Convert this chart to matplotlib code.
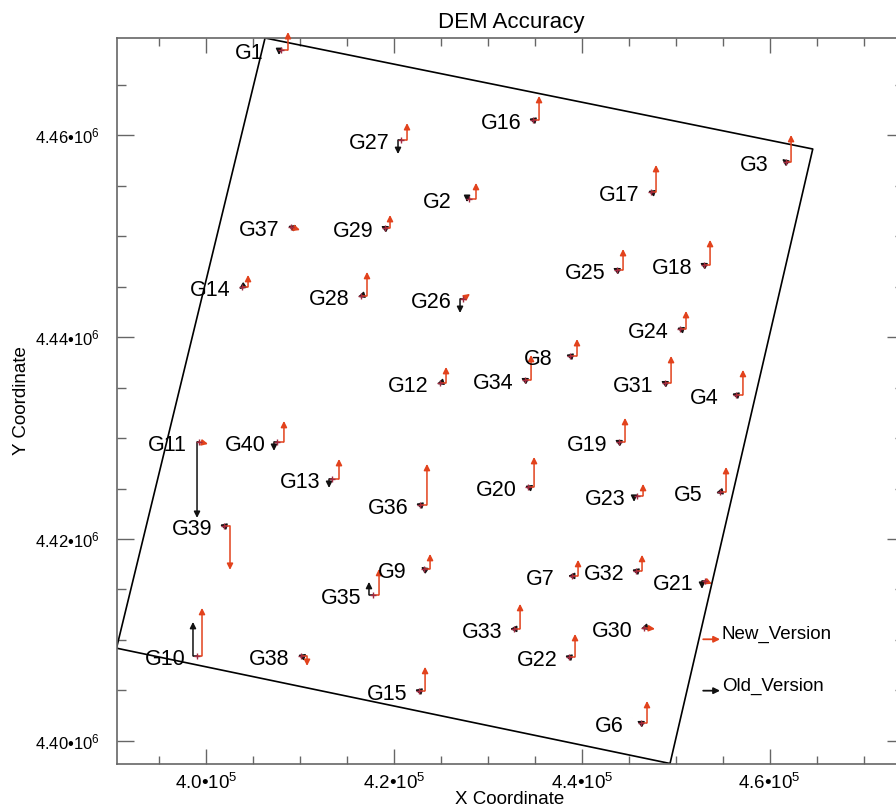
import matplotlib
matplotlib.use('Agg')
import matplotlib.pyplot as plt
from matplotlib.ticker import MultipleLocator, FuncFormatter

plt.rcParams['font.family'] = ['Liberation Sans', 'DejaVu Sans']
plt.rcParams['mathtext.fontset'] = 'custom'
plt.rcParams['mathtext.rm'] = 'Liberation Sans'
plt.rcParams['mathtext.it'] = 'Liberation Sans:italic'
plt.rcParams['mathtext.bf'] = 'Liberation Sans:bold'
plt.rcParams['mathtext.default'] = 'regular'

# ---------------- data ----------------
names = [f'G{i}' for i in range(1, 41)]
gcp_x = [408000, 428010, 461750, 456420, 454720, 446310, 438970, 438760, 423220, 399060,
         399270, 424920, 413430, 403850, 422690, 434820, 447380, 453020, 443970, 434290,
         453120, 438650, 445890, 450460, 443760, 427370, 420770, 416510, 419070, 446630,
         448870, 445780, 432800, 433970, 417790, 422790, 409060, 410130, 401930, 407570]
gcp_y = [4468460, 4453700, 4457360, 4434280, 4424660, 4401770, 4416340, 4438140, 4417030, 4408410,
         4429620, 4435460, 4425950, 4444980, 4404950, 4461530, 4454390, 4447160, 4429620, 4425160,
         4415850, 4408310, 4424270, 4440820, 4446660, 4443790, 4459540, 4444090, 4450820, 4411190,
         4435460, 4416840, 4411090, 4435760, 4414460, 4423380, 4450920, 4408410, 4421300, 4429620]
# errors (m)
new_dx = [0.74, 0.74, 0.53, 0.74, 0.64, 0.64, 0.64, 0.74, 0.64, 0.53,
          0.96, 0.64, 0.74, 0.64, 0.64, 0.64, 0.53, 0.64, 0.64, 0.64,
          0.74, 0.64, 0.64, 0.64, 0.64, 0.74, 0.64, 0.64, 0.53, 1.17,
          0.64, 0.64, 0.64, 0.64, 0.64, 0.74, 0.96, 0.64, 0.64, 0.74]
new_dy = [1.78, 1.59, 2.68, 2.48, 2.48, 2.18, 1.59, 1.68, 1.49, 4.76,
          -0.20, 1.59, 1.98, 1.19, 2.38, 2.38, 2.68, 2.48, 2.38, 2.97,
          -0.30, 2.28, 1.19, 1.78, 2.08, 0.50, 1.68, 2.38, 1.29, -0.10,
          2.68, 1.59, 2.48, 2.48, 2.58, 4.06, -0.30, -0.99, -4.36, 2.08]
old_dx = [-0.21, -0.21, -0.43, -0.43, -0.43, -0.43, -0.43, -0.43, -0.32, -0.43,
          -0.21, -0.32, -0.32, -0.32, -0.43, -0.43, -0.32, -0.43, -0.43, -0.32,
          -0.32, -0.43, -0.32, -0.32, -0.43, -0.32, -0.32, -0.32, -0.43, -0.32,
          -0.43, -0.43, -0.43, -0.43, -0.43, -0.43, -0.32, -0.32, -0.43, -0.32]
old_dy = [-0.50, -0.30, 0.30, 0.10, -0.10, 0.20, 0.00, 0.10, 0.20, 3.37,
          -7.53, -0.10, -0.89, -0.20, 0.10, 0.10, 0.10, 0.20, 0.20, 0.10,
          -0.79, 0.10, -0.59, 0.10, 0.20, -1.39, -1.39, -0.10, 0.20, -0.10,
          0.20, 0.10, 0.00, 0.20, 1.29, 0.10, 0.10, 0.10, 0.10, -0.89]
SCALE = 1000.0  # plot units per metre of error

boundary_x = [406300, 464590, 449400, 390490, 406300]
boundary_y = [4469650, 4458650, 4397750, 4409180, 4469650]

x_range = (390490, 474300)
y_range = (4397750, 4469700)

legend_labels = ['New_Version', 'Old_Version']

RED = '#e2421c'
BLACK = '#111111'

# ---------------- figure ----------------
W, H = 896, 809
fig = plt.figure(figsize=(W / 100, H / 100), dpi=100)
ax = fig.add_axes([116.5 / W, (H - 763.5) / H, 787.5 / W, 726 / H])
ax.set_xlim(*x_range)
ax.set_ylim(*y_range)

ax.plot(boundary_x, boundary_y, color='black', lw=1.2, zorder=2)


def draw_vec(x0, y0, dx, dy, color, z):
    ex = x0 + dx * SCALE
    ey = y0 + dy * SCALE
    props = dict(arrowstyle='-|>', color=color, lw=1.1, mutation_scale=9,
                 shrinkA=0, shrinkB=0)
    if abs(dy) > abs(dx):
        ax.plot([x0, ex], [y0, y0], color=color, lw=1.1, zorder=z, clip_on=False,
                solid_capstyle='butt')
        ax.annotate('', xy=(ex, ey), xytext=(ex, y0), arrowprops=props,
                    zorder=z, annotation_clip=False)
    else:
        ax.annotate('', xy=(ex, ey), xytext=(x0, y0), arrowprops=props,
                    zorder=z, annotation_clip=False)


for i in range(len(names)):
    draw_vec(gcp_x[i], gcp_y[i], old_dx[i], old_dy[i], BLACK, 3)
for i in range(len(names)):
    draw_vec(gcp_x[i], gcp_y[i], new_dx[i], new_dy[i], RED, 4)

ax.plot(gcp_x, gcp_y, linestyle='none', marker='+', markersize=5, mew=1.0,
        color='#a02a40', zorder=5, clip_on=False)

for i, nm in enumerate(names):
    ax.annotate(nm, xy=(gcp_x[i], gcp_y[i]), xytext=(-23, -6.7),
                textcoords='offset points', ha='center', va='baseline',
                fontsize=15.5, color='black', zorder=6)

# legend
leg_y = [0.1711, 0.1003]
leg_col = [RED, BLACK]
for lab, yy, cc in zip(legend_labels, leg_y, leg_col):
    ax.annotate('', xy=(0.7664, yy), xytext=(0.745, yy), xycoords='axes fraction',
                arrowprops=dict(arrowstyle='-|>', color=cc, lw=1.3, mutation_scale=9,
                                shrinkA=0, shrinkB=0))
    ax.text(0.7685, yy, lab, transform=ax.transAxes, ha='left', va='baseline',
            fontsize=13.5, color='black')

# ticks
ax.xaxis.set_major_locator(MultipleLocator(20000))
ax.xaxis.set_minor_locator(MultipleLocator(5000))
ax.yaxis.set_major_locator(MultipleLocator(20000))
ax.yaxis.set_minor_locator(MultipleLocator(5000))
ax.xaxis.set_major_formatter(FuncFormatter(lambda v, p: f'{v / 1e5:.1f}\u2022$10^{{5}}$'))
ax.yaxis.set_major_formatter(FuncFormatter(lambda v, p: f'{v / 1e6:.2f}\u2022$10^{{6}}$'))

ax.tick_params(which='both', direction='in', top=True, right=True,
               color='#666666', labelcolor='black')
ax.tick_params(axis='x', which='major', length=10.5, width=1.0, pad=6.5, labelsize=13.5)
ax.tick_params(axis='x', which='minor', length=5.8, width=1.0)
ax.tick_params(axis='y', which='major', length=12, width=1.0, pad=11.9, labelsize=12)
ax.tick_params(axis='y', which='minor', length=6.5, width=1.0)
for sp in ax.spines.values():
    sp.set_color('#666666')
    sp.set_linewidth(1.2)

fig.text(511.5 / W, (H - 28.3) / H, 'DEM Accuracy', ha='center', va='baseline', fontsize=16)
fig.text(510 / W, (H - 804.5) / H, 'X Coordinate', ha='center', va='baseline', fontsize=13.5)
fig.text(21 / W, (H - 401) / H, 'Y Coordinate', ha='center', va='center', rotation=90,
         fontsize=13.5)

fig.savefig('out.png', dpi=100)
